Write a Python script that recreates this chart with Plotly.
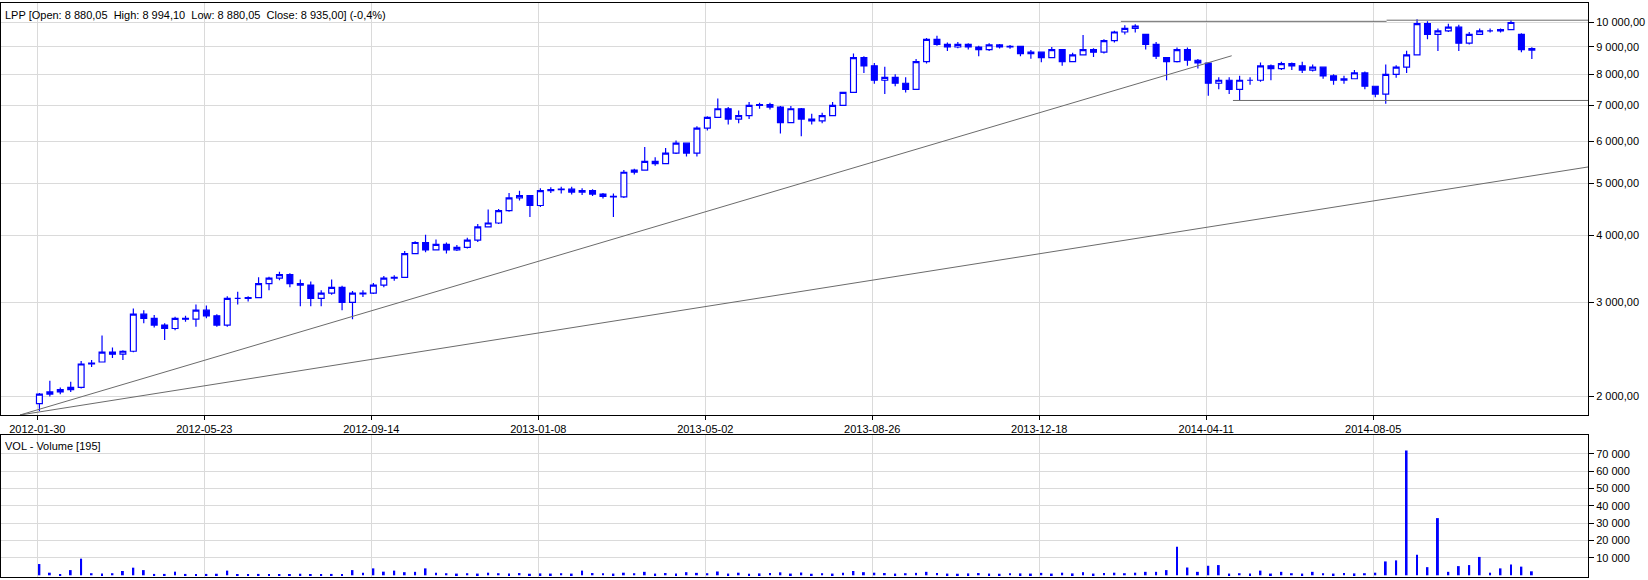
import plotly.graph_objects as go

# ---------------- data (weekly OHLC) ----------------
week_open = [1940, 2020, 2040, 2060, 2080, 2300, 2320, 2420, 2400, 2430,
             2850, 2800, 2720, 2680, 2800, 2790, 2900, 2830, 2720, 3050,
             3050, 3060, 3250, 3330, 3380, 3250, 3230, 3050, 3120, 3200,
             3000, 3110, 3120, 3230, 3330, 3340, 3700, 3880, 3760, 3850,
             3760, 3800, 3920, 4150, 4220, 4450, 4700, 4750, 4550, 4850,
             4870, 4880, 4820, 4850, 4780, 4730, 4720, 5250, 5300, 5500,
             5450, 5700, 5950, 5700, 6350, 6650, 6900, 6600, 6700, 7000,
             7020, 6950, 6500, 6900, 6600, 6550, 6700, 7000, 7400, 8600,
             8300, 7800, 7900, 7700, 7500, 8450, 9300, 9100, 9000, 9100,
             9000, 8900, 9080, 9000, 9020, 8750, 8800, 8600, 8900, 8450,
             8700, 8900, 8800, 9250, 9600, 9750, 9500, 9100, 8600, 8450,
             8900, 8500, 8400, 7700, 7800, 7500, 7800, 7800, 8300, 8200,
             8380, 8300, 8150, 8250, 7950, 7800, 7850, 8050, 7600, 7350,
             8000, 8250, 8700, 9950, 9500, 9650, 9800, 9150, 9500, 9650,
             9650, 9700, 9500, 8880]
week_high = [2030, 2140, 2080, 2130, 2330, 2340, 2600, 2470, 2440, 2920,
             2900, 2840, 2740, 2820, 2830, 2970, 2960, 2850, 3080, 3140,
             3080, 3340, 3350, 3420, 3400, 3310, 3280, 3160, 3310, 3220,
             3150, 3160, 3260, 3360, 3370, 3740, 3900, 4010, 3930, 3880,
             3840, 3960, 4200, 4470, 4480, 4800, 4850, 4760, 4900, 4920,
             4930, 4930, 4900, 4880, 4800, 4790, 5300, 5330, 5850, 5600,
             5830, 6020, 5960, 6400, 6680, 7210, 6950, 6850, 7100, 7080,
             7080, 6980, 6980, 6920, 6750, 6780, 7100, 7420, 8750, 8650,
             8400, 8270, 8000, 7900, 8550, 9350, 9450, 9180, 9200, 9150,
             9050, 9150, 9120, 9080, 9050, 8880, 8820, 9000, 8920, 8780,
             9480, 8950, 9300, 9650, 9880, 9920, 9520, 9200, 8620, 8980,
             8980, 8550, 8420, 7900, 7900, 7950, 7900, 8420, 8350, 8450,
             8420, 8450, 8350, 8250, 8000, 7950, 8150, 8100, 7620, 8350,
             8320, 8860, 10140, 10050, 9750, 9950, 9900, 9600, 9750, 9750,
             9750, 10100, 9550, 8994]
week_low = [1880, 2000, 2020, 2040, 2070, 2270, 2320, 2360, 2340, 2420,
            2740, 2690, 2550, 2660, 2760, 2700, 2800, 2700, 2700, 2970,
            3010, 3060, 3160, 3300, 3200, 2950, 2950, 2950, 3100, 2900,
            2790, 3070, 3110, 3200, 3290, 3340, 3700, 3720, 3750, 3700,
            3740, 3780, 3890, 4150, 4200, 4430, 4650, 4330, 4520, 4800,
            4790, 4770, 4760, 4740, 4690, 4330, 4700, 5200, 5300, 5400,
            5440, 5680, 5620, 5620, 6280, 6640, 6450, 6480, 6600, 6900,
            6880, 6200, 6480, 6130, 6450, 6480, 6700, 6980, 7400, 8050,
            7680, 7350, 7600, 7400, 7480, 8380, 9050, 8850, 8950, 8900,
            8650, 8850, 8940, 8930, 8650, 8560, 8430, 8580, 8300, 8430,
            8700, 8620, 8750, 9180, 9500, 9580, 8900, 8550, 7800, 8420,
            8300, 8200, 7300, 7500, 7350, 7150, 7650, 7750, 7800, 8150,
            8150, 8050, 8100, 7850, 7650, 7680, 7850, 7500, 7250, 7050,
            7880, 8050, 8700, 9300, 8850, 9600, 8850, 9100, 9480, 9580,
            9580, 9700, 8800, 8550]
week_close = [2020, 2040, 2060, 2080, 2300, 2310, 2420, 2400, 2430, 2850,
              2800, 2720, 2680, 2800, 2790, 2900, 2830, 2720, 3050, 3050,
              3060, 3250, 3330, 3380, 3250, 3230, 3050, 3120, 3200, 3000,
              3120, 3120, 3230, 3330, 3340, 3700, 3880, 3760, 3850, 3760,
              3800, 3920, 4150, 4220, 4450, 4700, 4750, 4550, 4850, 4870,
              4880, 4820, 4850, 4780, 4730, 4720, 5250, 5300, 5500, 5450,
              5700, 5950, 5700, 6350, 6650, 6900, 6600, 6700, 7000, 7020,
              6950, 6500, 6900, 6600, 6550, 6700, 7000, 7400, 8600, 8300,
              7800, 7900, 7700, 7500, 8450, 9300, 9100, 9000, 9100, 9000,
              8900, 9080, 9000, 9020, 8750, 8800, 8600, 8900, 8450, 8700,
              8900, 8800, 9250, 9600, 9750, 9850, 9100, 8650, 8450, 8900,
              8500, 8400, 7700, 7800, 7500, 7800, 7800, 8300, 8200, 8380,
              8300, 8150, 8250, 7950, 7800, 7850, 8050, 7600, 7350, 8000,
              8250, 8700, 9950, 9500, 9650, 9800, 9150, 9500, 9650, 9650,
              9700, 10000, 8900, 8935]
week_volume = [6500, 1500, 600, 3000, 9600, 1200, 1000, 1200, 2500, 4400,
               3000, 800, 800, 2100, 800, 700, 800, 900, 2700, 700,
               600, 800, 600, 700, 600, 900, 600, 700, 800, 700,
               3000, 1500, 4000, 2100, 2700, 1800, 2000, 4000, 1500, 1200,
               1000, 1200, 1000, 1500, 1200, 1000, 1300, 900, 1100, 1000,
               1200, 1000, 2700, 1300, 1200, 1000, 1500, 1200, 2000, 1000,
               1300, 1100, 1800, 1400, 1200, 2200, 1000, 1500, 900, 1100,
               1300, 1700, 1000, 1600, 900, 1200, 1000, 1400, 2500, 1800,
               1500, 1300, 1000, 1200, 1400, 2000, 1300, 1000, 900, 1100,
               1300, 1000, 900, 1200, 1100, 1000, 1400, 1000, 1500, 1100,
               1800, 1000, 1300, 1500, 1200, 1500, 2000, 2000, 3000, 16500,
               4500, 2000, 5500, 5900, 1000, 1200, 1100, 2700, 1000, 2000,
               1200, 1000, 2000, 1200, 1000, 1300, 1100, 1200, 1500, 8000,
               8600, 72000, 11800, 4700, 33000, 2000, 5300, 5900, 10600, 1500,
               4000, 6300, 5000, 2300]

# date labels of the time axis (every 80 sessions)
tick_dates = ["2012-01-30", "2012-05-23", "2012-09-14", "2013-01-08", "2013-05-02",
              "2013-08-26", "2013-12-18", "2014-04-11", "2014-08-05"]
price_ticks = [2000, 3000, 4000, 5000, 6000, 7000, 8000, 9000, 10000]
price_tick_text = ["2 000,00", "3 000,00", "4 000,00", "5 000,00", "6 000,00",
                   "7 000,00", "8 000,00", "9 000,00", "10 000,00"]
vol_ticks = [10000, 20000, 30000, 40000, 50000, 60000, 70000]
vol_tick_text = ["10 000", "20 000", "30 000", "40 000", "50 000", "60 000", "70 000"]

# trend / support / resistance lines: (session index, price) end points
trend_up_steep = ([-8.3, 572.2], [1847, 8667])
trend_up_flat = ([-8.3, 742.9], [1847, 5370])
resist_a = ([519.1, 646.4], [10050, 10050])
resist_b = ([646.4, 742.9], [10100, 10100])
support = ([572.8, 742.9], [7150, 7150])

# ---------------- figure ----------------
W, H = 1648, 580
tick_pos = [80 * i for i in range(len(tick_dates))]
week_x = [5 * k + 1 for k in range(len(week_close))]

BLUE = "#0000ff"
GRID = "#dadada"
LINE = "#6b6b6b"

fig = go.Figure()

for xs, ys in [trend_up_steep, trend_up_flat, resist_a, resist_b, support]:
    fig.add_trace(go.Scatter(x=xs, y=ys, mode="lines",
                             line=dict(color=LINE, width=1),
                             hoverinfo="skip", xaxis="x", yaxis="y"))

fig.add_trace(go.Candlestick(
    x=week_x, open=week_open, high=week_high, low=week_low, close=week_close,
    increasing=dict(line=dict(color=BLUE, width=1.2), fillcolor="white"),
    decreasing=dict(line=dict(color=BLUE, width=1.2), fillcolor=BLUE),
    whiskerwidth=0, xaxis="x", yaxis="y", name="LPP"))

fig.add_trace(go.Bar(x=week_x, y=week_volume, width=0.9,
                     marker=dict(color=BLUE, line=dict(width=0)),
                     xaxis="x2", yaxis="y2", name="VOL"))

xd = [1 / W, 1588 / W]
xr = [-17.4, 742.9]
common_x = dict(domain=xd, range=xr, tickmode="array", tickvals=tick_pos,
                showgrid=True, gridcolor=GRID, gridwidth=1,
                showline=True, mirror=True, linecolor="black", linewidth=1,
                zeroline=False, fixedrange=True)

fig.update_layout(
    width=W, height=H,
    margin=dict(l=0, r=0, t=0, b=0),
    paper_bgcolor="white", plot_bgcolor="white",
    showlegend=False,
    boxgap=0.2,
    font=dict(family="Liberation Sans, Arial, sans-serif", size=11, color="black"),
    xaxis=dict(**common_x, anchor="y", ticktext=tick_dates, ticks="outside",
               ticklen=4, tickcolor="black", rangeslider=dict(visible=False)),
    yaxis=dict(type="log", range=[3.26645, 4.03738],
               domain=[1 - 415 / H, 1 - 2.5 / H], side="right", anchor="x",
               tickmode="array", tickvals=price_ticks, ticktext=price_tick_text,
               ticks="outside", ticklen=5, tickcolor="black",
               showgrid=True, gridcolor=GRID, gridwidth=1,
               showline=True, mirror=True, linecolor="black", linewidth=1,
               zeroline=False, fixedrange=True),
    xaxis2=dict(**common_x, anchor="y2", ticktext=tick_dates, showticklabels=False,
                ticks=""),
    yaxis2=dict(range=[-980, 80940], domain=[1 - 577 / H, 1 - 435 / H],
                side="right", anchor="x2",
                tickmode="array", tickvals=vol_ticks, ticktext=vol_tick_text,
                ticks="outside", ticklen=5, tickcolor="black",
                showgrid=True, gridcolor=GRID, gridwidth=1,
                showline=True, mirror=True, linecolor="black", linewidth=1,
                zeroline=False, fixedrange=True),
    annotations=[
        dict(text="LPP [Open: 8 880,05\u00a0\u00a0High: 8 994,10\u00a0\u00a0Low: 8 880,05"
                  "\u00a0\u00a0Close: 8 935,00] (-0,4%)",
             xref="paper", yref="paper", x=3 / W, y=1 - 15.5 / H,
             xanchor="left", yanchor="middle", showarrow=False,
             font=dict(size=11, color="black")),
        dict(text="VOL - Volume [195]",
             xref="paper", yref="paper", x=3 / W, y=1 - 446 / H,
             xanchor="left", yanchor="middle", showarrow=False,
             font=dict(size=11, color="black")),
    ],
)

fig.write_html("out.html")
